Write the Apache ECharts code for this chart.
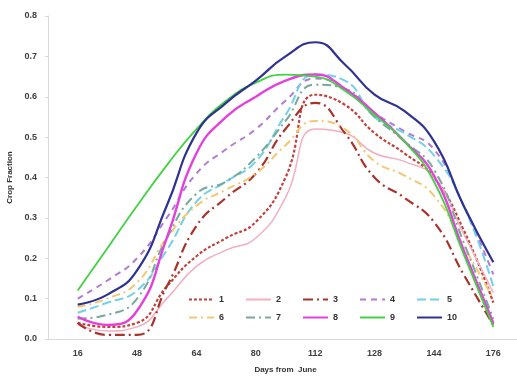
<!DOCTYPE html>
<html>
<head>
<meta charset="utf-8">
<script src="https://cdn.jsdelivr.net/npm/echarts@6/dist/echarts.min.js"></script>
<style>
  html, body { margin: 0; padding: 0; background: #fff; }
  #chart { width: 517px; height: 379px; }
</style>
</head>
<body>
<div id="chart"></div>
<script>
// tick labels on the x axis (days from June)
const xLabels = ["16", "48", "64", "80", "112", "128", "144", "176"];
// sample positions, in tick units (half steps between labels)
const xPos = [0, 0.5, 1, 1.5, 2, 2.5, 3, 3.5, 4, 4.5, 5, 5.5, 6, 6.5, 7];

const s1 = [0.04, 0.03, 0.04, 0.13, 0.205, 0.25, 0.29, 0.40, 0.605, 0.58, 0.51, 0.46, 0.40, 0.27, 0.09];
const s2 = [0.035, 0.02, 0.03, 0.10, 0.18, 0.22, 0.25, 0.35, 0.52, 0.51, 0.46, 0.44, 0.40, 0.26, 0.115];
const s3 = [0.04, 0.01, 0.01, 0.13, 0.28, 0.35, 0.41, 0.52, 0.585, 0.51, 0.40, 0.35, 0.29, 0.16, 0.035];
const s4 = [0.10, 0.145, 0.20, 0.30, 0.41, 0.47, 0.52, 0.59, 0.645, 0.62, 0.56, 0.515, 0.47, 0.33, 0.16];
const s5 = [0.065, 0.09, 0.12, 0.22, 0.34, 0.39, 0.44, 0.555, 0.655, 0.64, 0.55, 0.51, 0.455, 0.33, 0.13];
const s6 = [0.08, 0.10, 0.14, 0.25, 0.33, 0.37, 0.41, 0.48, 0.54, 0.52, 0.44, 0.405, 0.355, 0.23, 0.10];
const s7 = [0.05, 0.06, 0.10, 0.25, 0.36, 0.39, 0.45, 0.54, 0.63, 0.62, 0.55, 0.49, 0.42, 0.24, 0.05];
const s8 = [0.055, 0.035, 0.07, 0.25, 0.46, 0.55, 0.60, 0.64, 0.655, 0.62, 0.56, 0.49, 0.405, 0.22, 0.04];
const s9 = [0.12, 0.225, 0.33, 0.43, 0.52, 0.59, 0.635, 0.655, 0.65, 0.615, 0.555, 0.49, 0.39, 0.21, 0.03];
const s10 = [0.085, 0.11, 0.17, 0.33, 0.51, 0.585, 0.64, 0.70, 0.735, 0.68, 0.605, 0.565, 0.49, 0.33, 0.19];

const names = ["1", "2", "3", "4", "5", "6", "7", "8", "9", "10"];
const values = [s1, s2, s3, s4, s5, s6, s7, s8, s9, s10];
const colors = ["#c2413b", "#f3aebf", "#a8332c", "#b47ad2", "#72d0e8",
                "#f4c775", "#78a99b", "#e440dc", "#42d142", "#2f3290"];
const dashes = [[3, 2], "solid", [10, 4, 2, 4], [6, 5], [9, 4],
                [8, 4, 2, 4], [9, 4, 2, 4], "solid", "solid", "solid"];
const widths = [2.2, 1.5, 2.2, 2, 2, 2, 2, 2.4, 1.8, 2.2];

const chart = echarts.init(document.getElementById("chart"));

const series = names.map((n, k) => ({
  name: n,
  type: "line",
  xAxisIndex: 1,
  smooth: 0.5,
  symbol: "none",
  color: colors[k],
  lineStyle: { color: colors[k], width: widths[k], type: dashes[k] },
  data: xPos.map((x, i) => [x, values[k][i]]),
  z: k === 9 ? 5 : 2
}));

const legendCommon = {
  left: 183,
  itemWidth: 25,
  itemHeight: 10,
  itemGap: 21,
  itemStyle: { opacity: 0 },
  textStyle: { fontSize: 9, fontWeight: "bold", color: "#333" }
};

const options = {
  animation: false,
  backgroundColor: "#ffffff",
  grid: { left: 48, right: -6, top: 16, bottom: 40, outerBoundsMode: "none", containLabel: false },
  legend: [
    Object.assign({ top: 290, data: names.slice(0, 5) }, legendCommon),
    Object.assign({ top: 308, data: names.slice(5) }, legendCommon)
  ],
  xAxis: [
    {
      type: "category",
      data: xLabels,
      boundaryGap: true,
      name: "Days from  June",
      nameLocation: "middle",
      nameGap: 27,
      nameTextStyle: { fontSize: 8, color: "#333", fontWeight: "bold" },
      axisLine: { lineStyle: { color: "#d9d9d9", width: 1 } },
      axisTick: { show: false },
      axisLabel: { fontSize: 9, fontWeight: "bold", color: "#404040", margin: 10 }
    },
    {
      type: "value",
      min: -0.5,
      max: 7.5,
      show: false
    }
  ],
  yAxis: {
    type: "value",
    min: 0,
    max: 0.8,
    interval: 0.1,
    name: "Crop Fraction",
    nameLocation: "middle",
    nameRotate: 90,
    nameGap: 30,
    nameTextStyle: { fontSize: 8, color: "#333", fontWeight: "bold" },
    axisLine: { show: true, onZero: false, lineStyle: { color: "#d9d9d9", width: 1 } },
    axisTick: { show: true, length: 3, lineStyle: { color: "#d9d9d9" } },
    splitLine: { show: false },
    axisLabel: {
      fontSize: 9,
      fontWeight: "bold",
      color: "#404040",
      margin: 11,
      formatter: (v) => v.toFixed(1)
    }
  },
  series: series
};

chart.setOption(options);
</script>
</body>
</html>
